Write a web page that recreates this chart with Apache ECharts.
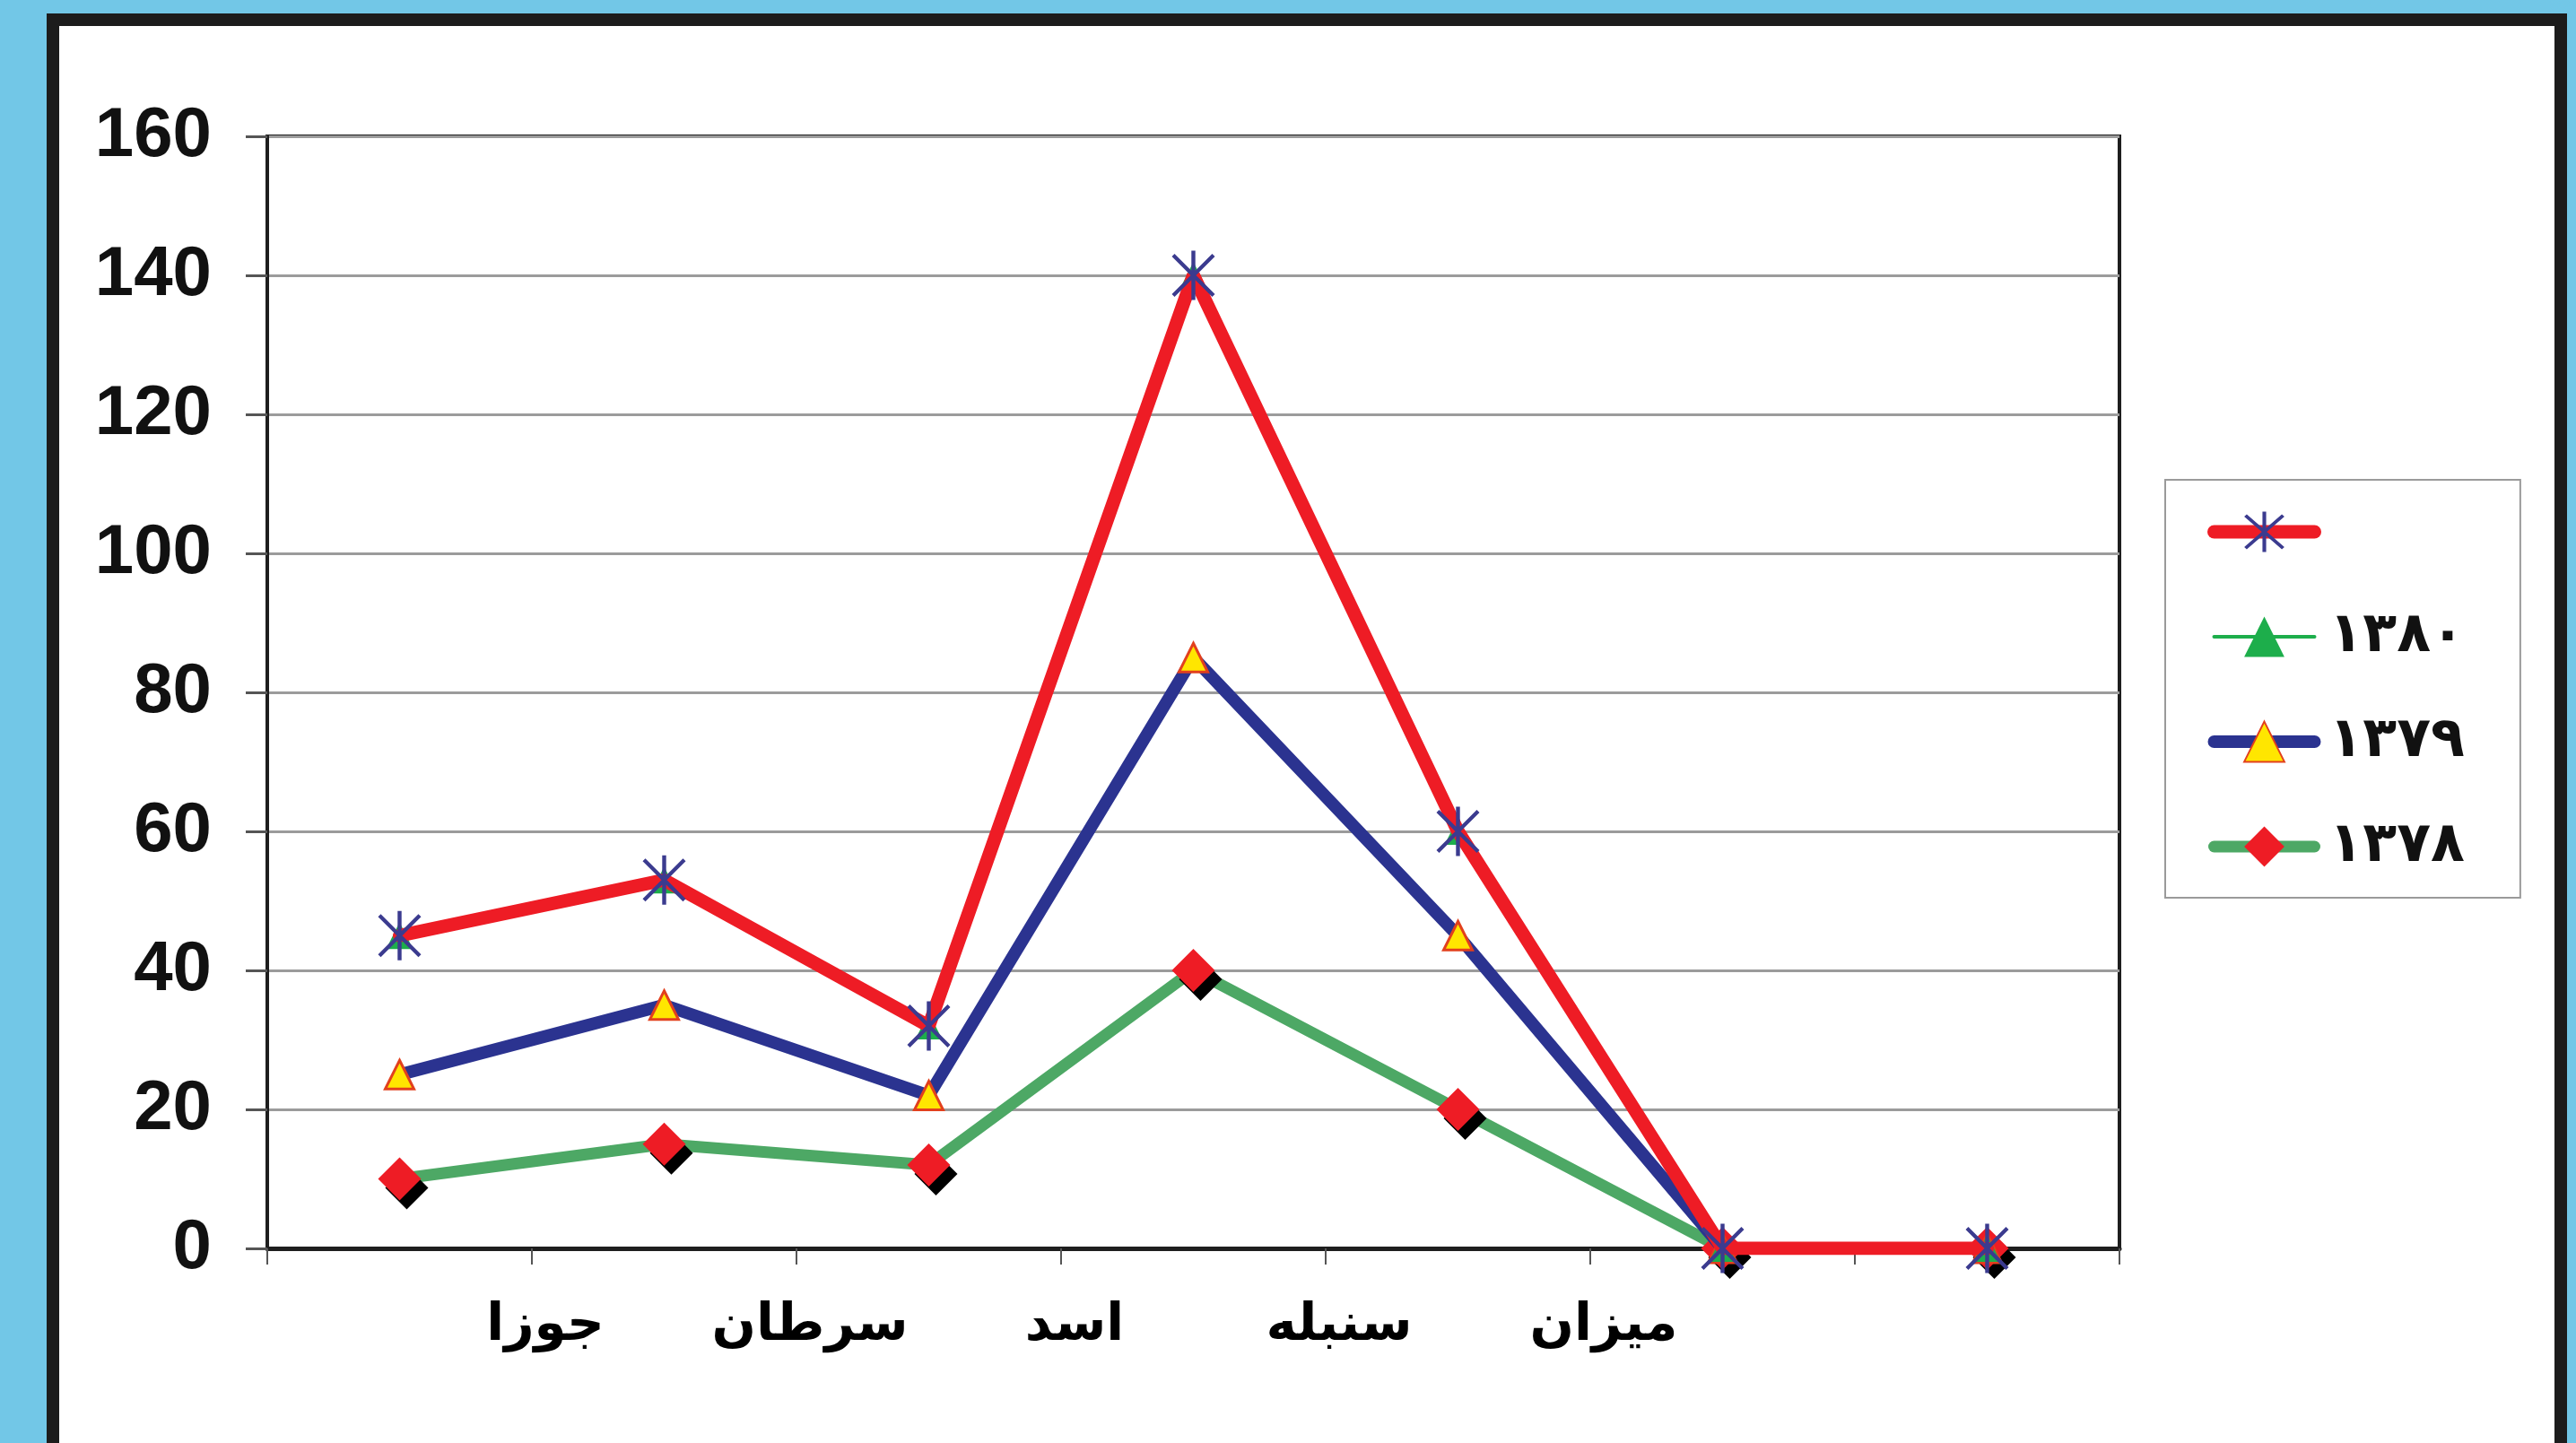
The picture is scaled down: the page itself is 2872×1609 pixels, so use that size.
<!DOCTYPE html>
<html>
<head>
<meta charset="utf-8">
<script src="https://cdn.jsdelivr.net/npm/echarts@6/dist/echarts.min.js"></script>
<style>
  html, body { margin: 0; padding: 0; width: 2872px; height: 1609px; overflow: hidden; background: #72C7E7; }
  #frame { position: absolute; left: 52px; top: 15px; width: 2782px; height: 1620px; border: 14px solid #1c1c1c; border-bottom: none; background: #ffffff; }
  #chart { position: absolute; left: 0; top: 0; width: 2872px; height: 1609px; }
</style>
</head>
<body>
<div id="frame"></div>
<div id="chart"></div>
<script>
// point slots (7 positions along the x axis)
const pointSlots = ['1', '2', '3', '4', '5', '6', '7'];
// tick labels sit on the 8 tick boundaries
const monthLabels = ['', 'جوزا', 'سرطان', 'اسد', 'سنبله', 'میزان', '', ''];
const yTicks = [0, 20, 40, 60, 80, 100, 120, 140, 160];

const seriesRedName = ' ';
const seriesRed = [45, 53, 32, 140, 60, 0, 0];
const series1380Name = '۱۳۸۰';
const series1380 = [45, 53, 32, 140, 60, 0, 0];
const series1379Name = '۱۳۷۹';
const series1379 = [25, 35, 22, 85, 45, 0, 0];
const series1378Name = '۱۳۷۸';
const series1378 = [10, 15, 12, 40, 20, 0, 0];

const starPath = 'path://M-0.8,-10L0.8,-10L0.8,10L-0.8,10Z M-7.6,-8.7L8.7,7.6L7.6,8.7L-8.7,-7.6Z M7.6,-8.7L8.7,-7.6L-7.6,8.7L-8.7,7.6Z';

const chart = echarts.init(document.getElementById('chart'), null, { renderer: 'canvas' });
chart.setOption({
  backgroundColor: 'transparent',
  animation: false,
  grid: {
    left: 298, top: 152, width: 2065, height: 1240,
    show: true, borderColor: '#1e1e1e', borderWidth: 4, backgroundColor: 'transparent'
  },
  legend: {
    orient: 'vertical',
    left: 2414, top: 535,
    padding: [27, 62, 26, 47],
    itemWidth: 112, itemHeight: 56, itemGap: 55,
    borderColor: '#9a9a9a', borderWidth: 2,
    backgroundColor: '#ffffff',
    data: [seriesRedName, series1380Name, series1379Name, series1378Name],
    lineStyle: { width: 'inherit', cap: 'round' },
    itemStyle: { shadowBlur: 0, shadowOffsetX: 0, shadowOffsetY: 0, shadowColor: 'transparent' },
    textStyle: { fontFamily: 'DejaVu Sans', fontWeight: 'bold', fontSize: 62, lineHeight: 56, color: '#111', padding: [0, 0, 0, 11] }
  },
  xAxis: [
    {
      type: 'category', data: pointSlots, boundaryGap: true,
      axisLine: { show: true, lineStyle: { color: '#1e1e1e', width: 5 } },
      axisTick: { show: true, interval: 0, length: 18, lineStyle: { color: '#555', width: 2 } },
      axisLabel: { show: false },
      splitLine: { show: false }
    },
    {
      type: 'category', data: monthLabels, boundaryGap: false, position: 'bottom',
      axisLine: { show: false }, axisTick: { show: false }, splitLine: { show: false },
      axisLabel: { show: true, interval: 0, margin: 58, padding: [0, 0, 0, 30], fontFamily: 'DejaVu Sans', fontWeight: 'bold', fontSize: 58, color: '#000' }
    }
  ],
  yAxis: {
    type: 'value', min: yTicks[0], max: yTicks[yTicks.length - 1], interval: yTicks[1] - yTicks[0],
    axisLine: { show: true, lineStyle: { color: '#1e1e1e', width: 4 } },
    axisTick: { show: true, length: 24, lineStyle: { color: '#555', width: 3 } },
    axisLabel: { margin: 62, fontFamily: 'Liberation Sans', fontWeight: 'bold', fontSize: 78, color: '#111' },
    splitLine: { show: true, lineStyle: { color: '#9b9b9b', width: 3 } }
  },
  series: [
    {
      name: series1378Name, type: 'line', data: series1378, xAxisIndex: 0, z: 2,
      lineStyle: { color: '#4DA865', width: 13, cap: 'round' },
      symbol: 'diamond', symbolSize: 48,
      itemStyle: { color: '#EE1C25', shadowColor: '#000', shadowBlur: 0, shadowOffsetX: 8, shadowOffsetY: 10 }
    },
    {
      name: series1379Name, type: 'line', data: series1379, xAxisIndex: 0, z: 3,
      lineStyle: { color: '#2B3390', width: 14, cap: 'round' },
      symbol: 'triangle', symbolSize: 32,
      itemStyle: { color: '#FFE600', borderColor: '#E2401D', borderWidth: 3 }
    },
    {
      name: series1380Name, type: 'line', data: series1380, xAxisIndex: 0, z: 4,
      lineStyle: { color: '#1DAE4B', width: 4 },
      symbol: 'triangle', symbolSize: 30,
      itemStyle: { color: '#1DAE4B' }
    },
    {
      name: seriesRedName, type: 'line', data: seriesRed, xAxisIndex: 0, z: 5,
      lineStyle: { color: '#EE1C25', width: 15, cap: 'round' },
      symbol: starPath, symbolSize: [48, 55],
      itemStyle: { color: '#3B3B8F' }
    }
  ]
});
</script>
</body>
</html>
